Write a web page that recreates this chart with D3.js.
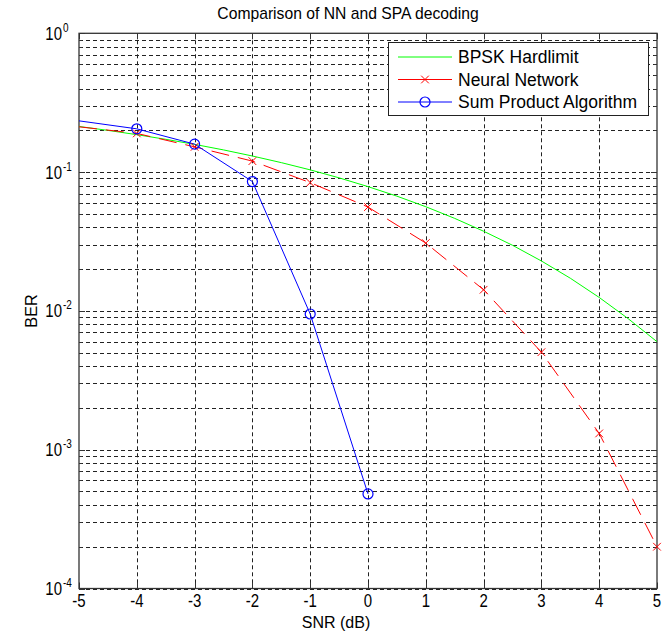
<!DOCTYPE html>
<meta charset="utf-8">
<title>Comparison of NN and SPA decoding</title>
<style>
body { margin: 0; background: #fff; }
text { font-family: "Liberation Sans", Arial, sans-serif; fill: #000; }
.grid line { stroke: #222; stroke-width: 1; stroke-dasharray: 4,3; }
.frame { fill: none; stroke: #333; stroke-width: 1.3; }
</style>
<body>
<svg width="670" height="632"></svg>
<script src="https://d3js.org/d3.v7.min.js"></script>
<script>

// values
var bpskSnr = [-5, -4.5, -4, -3.5, -3, -2.5, -2, -1.5, -1, -0.5, 0, 0.5, 1, 1.5, 2, 2.5, 3, 3.5, 4, 4.5, 5];
var bpskBer = [0.2132, 0.1998, 0.1861, 0.1723, 0.1584, 0.1445, 0.1306, 0.117, 0.1038, 0.0909, 0.0786,
               0.0671, 0.0563, 0.0464, 0.0375, 0.0297, 0.0229, 0.0172, 0.0125, 0.0088, 0.006];

var nnSnr = [-5, -4, -3, -2, -1, 0, 1, 2, 3, 4, 5];
var nnBer = [0.212, 0.19, 0.152, 0.12, 0.084, 0.056, 0.0308, 0.0142, 0.00504, 0.00131, 0.0002];

var spaSnr = [-5, -4, -3, -2, -1, 0];
var spaBer = [0.234, 0.205, 0.159, 0.0855, 0.0095, 0.00048];

var xTicks = [-5, -4, -3, -2, -1, 0, 1, 2, 3, 4, 5];
var yDecades = [-4, -3, -2, -1, 0];

var svg = d3.select("svg");
// axes box (note: "top" is taken by window.top, so use other names)
var pLeft = 79, pRight = 657, pTop = 33.3, pBottom = 588.5;

var x = d3.scaleLinear().domain([-5, 5]).range([pLeft, pRight]);
var y = d3.scaleLog().domain([1e-4, 1]).range([pBottom, pTop]);

function pts(xs, ys) {
  return xs.map(function(v, i) { return { snr: v, ber: ys[i] }; });
}
var bpsk = pts(bpskSnr, bpskBer);
var nn = pts(nnSnr, nnBer);
var spa = pts(spaSnr, spaBer);

// grid lines (major + minor on log axis)
var minor = [];
yDecades.forEach(function(e) {
  if (e == 0) return;
  for (var k = 1; k < 10; k++) minor.push(k * Math.pow(10, e));
});

var grid = svg.append("g").attr("class", "grid");
grid.selectAll(".gy").data(minor).enter().append("line")
  .attr("x1", pLeft).attr("x2", pRight)
  .attr("y1", function(d) { return Math.round(y(d)) + 0.5; })
  .attr("y2", function(d) { return Math.round(y(d)) + 0.5; });
grid.selectAll(".gx").data(xTicks.slice(1, -1)).enter().append("line")
  .attr("y1", pTop).attr("y2", pBottom)
  .attr("x1", function(d) { return Math.round(x(d)) + 0.5; })
  .attr("x2", function(d) { return Math.round(x(d)) + 0.5; });

// ticks on all four sides
var ticks = svg.append("g").attr("stroke", "#333");
xTicks.forEach(function(t) {
  var px = Math.round(x(t)) + 0.5;
  ticks.append("line").attr("x1", px).attr("x2", px).attr("y1", pBottom).attr("y2", pBottom - 6);
  ticks.append("line").attr("x1", px).attr("x2", px).attr("y1", pTop).attr("y2", pTop + 6);
});
minor.concat([1]).forEach(function(t) {
  var py = Math.round(y(t)) + 0.5;
  var len = (Math.abs(Math.log10(t) - Math.round(Math.log10(t))) < 1e-9) ? 6 : 3;
  ticks.append("line").attr("x1", pLeft).attr("x2", pLeft + len).attr("y1", py).attr("y2", py);
  ticks.append("line").attr("x1", pRight).attr("x2", pRight - len).attr("y1", py).attr("y2", py);
});

svg.append("rect").attr("class", "frame")
  .attr("x", pLeft).attr("y", pTop)
  .attr("width", pRight - pLeft).attr("height", pBottom - pTop);

// tick labels (the screenshot's tick font is a bit taller than wide)
var stretch = "scale(1,1.2)";
svg.selectAll(".xl").data(xTicks).enter().append("text")
  .attr("transform", function(d) { return "translate(" + x(d) + ",607) " + stretch; })
  .attr("text-anchor", "middle")
  .attr("font-size", 15)
  .text(function(d) { return d; });

svg.selectAll(".yl").data(yDecades).enter().append("text")
  .attr("transform", function(d) { return "translate(62," + (y(Math.pow(10, d)) + 6.5) + ") " + stretch; })
  .attr("text-anchor", "end")
  .attr("font-size", 15)
  .text("10");
svg.selectAll(".ye").data(yDecades).enter().append("text")
  .attr("transform", function(d) { return "translate(63," + (y(Math.pow(10, d)) - 1.5) + ") " + stretch; })
  .attr("font-size", 10)
  .text(function(d) { return d; });

// curves
var line = d3.line()
  .x(function(d) { return x(d.snr); })
  .y(function(d) { return y(d.ber); });

svg.append("path").datum(bpsk)
  .attr("fill", "none").attr("stroke", "#00ff00").attr("stroke-width", 1)
  .attr("d", line);

svg.append("path").datum(nn)
  .attr("fill", "none").attr("stroke", "#ff0000").attr("stroke-width", 1)
  .attr("stroke-dasharray", "18,9")
  .attr("d", line);

svg.append("path").datum(spa)
  .attr("fill", "none").attr("stroke", "#0000ff").attr("stroke-width", 1)
  .attr("d", line);

// markers (none drawn on the left edge of the axes)
var cross = d3.symbol().type(d3.symbolX).size(40);
svg.selectAll(".nnm").data(nn.filter(function(d) { return d.snr > -5; })).enter().append("path")
  .attr("transform", function(d) { return "translate(" + x(d.snr) + "," + y(d.ber) + ")"; })
  .attr("d", cross)
  .attr("fill", "none").attr("stroke", "#ff0000").attr("stroke-width", 1);

svg.selectAll(".spam").data(spa.filter(function(d) { return d.snr > -5; })).enter().append("circle")
  .attr("cx", function(d) { return x(d.snr); })
  .attr("cy", function(d) { return y(d.ber); })
  .attr("r", 5)
  .attr("fill", "none").attr("stroke", "#0000ff").attr("stroke-width", 1.2);

// legend
var names = ["BPSK Hardlimit", "Neural Network", "Sum Product Algorithm"];
var colors = ["#00ff00", "#ff0000", "#0000ff"];
var lg = svg.append("g");
lg.append("rect").attr("x", 388.5).attr("y", 42.5).attr("width", 260).attr("height", 73)
  .attr("fill", "#fff").attr("stroke", "#222").attr("stroke-width", 1);
names.forEach(function(n, i) {
  var ly = 57 + i * 22.5;
  lg.append("line").attr("x1", 398).attr("x2", 452).attr("y1", ly).attr("y2", ly)
    .attr("stroke", colors[i]).attr("stroke-width", 1);
  if (i == 1) lg.append("path").attr("transform", "translate(425," + ly + ")")
    .attr("d", cross).attr("fill", "none").attr("stroke", colors[i]);
  if (i == 2) lg.append("circle").attr("cx", 425).attr("cy", ly).attr("r", 5)
    .attr("fill", "none").attr("stroke", colors[i]).attr("stroke-width", 1.2);
  lg.append("text").attr("x", 458).attr("y", ly + 6).attr("font-size", 17.5).text(n);
});

// titles
svg.append("text").attr("x", 348).attr("y", 19).attr("text-anchor", "middle")
  .attr("font-size", 15.7).text("Comparison of NN and SPA decoding");
svg.append("text").attr("x", 336).attr("y", 628).attr("text-anchor", "middle")
  .attr("font-size", 16).text("SNR (dB)");
svg.append("text").attr("transform", "translate(37,311) rotate(-90)")
  .attr("text-anchor", "middle").attr("font-size", 16.3).text("BER");

</script>
</body>
